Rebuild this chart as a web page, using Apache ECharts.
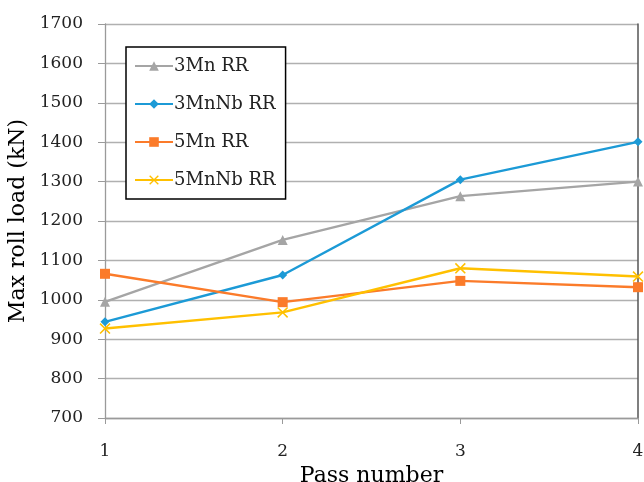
<!DOCTYPE html>
<html><head><meta charset="utf-8">
<script src="https://cdn.jsdelivr.net/npm/echarts@6/dist/echarts.min.js"></script>
<style>html,body{margin:0;padding:0;background:#fff}#c{width:644px;height:482px}</style>
</head><body><div id="c"></div>
<script>
const passes = [1, 2, 3, 4];
const s3Mn = [995, 1152, 1263, 1300];
const s3MnNb = [944, 1063, 1305, 1401];
const s5Mn = [1066, 994, 1048, 1032];
const s5MnNb = [927, 968, 1080, 1059];
const seriesNames = ['3Mn RR', '3MnNb RR', '5Mn RR', '5MnNb RR'];
const yTicks = [700, 800, 900, 1000, 1100, 1200, 1300, 1400, 1500, 1600, 1700];

const font = '"DejaVu Serif", "Liberation Serif", serif';
const xSym = 'path://M0,1L1,0L5,4L9,0L10,1L6,5L10,9L9,10L5,6L1,10L0,9L4,5Z';
function mk(name, vals, color, symbol, size) {
  return {
    name, type: 'line', data: passes.map((p, i) => [p, vals[i]]),
    symbol, symbolSize: size, showSymbol: true,
    lineStyle: { color, width: 2.4 }, itemStyle: { color },
    emphasis: { disabled: true }, z: 3
  };
}
const chart = echarts.init(document.getElementById('c'));
chart.setOption({
  animation: false,
  grid: { left: 105, right: 6, top: 24, bottom: 64, outerBoundsMode: 'none', containLabel: false },
  xAxis: {
    type: 'value', min: 1, max: 4, interval: 1,
    name: 'Pass number', nameLocation: 'middle', nameGap: 36,
    nameTextStyle: { fontFamily: font, fontSize: 22, color: '#000' },
    axisLine: { lineStyle: { color: '#9a9a9a', width: 1.3 } },
    axisTick: { show: true, length: 6, lineStyle: { color: '#9a9a9a' } },
    axisLabel: { fontFamily: font, fontSize: 17, color: '#222', margin: 25 },
    splitLine: { show: false }
  },
  yAxis: [{
    type: 'value', min: 700, max: 1700, interval: 100,
    name: 'Max roll load (kN)', nameLocation: 'middle', nameGap: 71,
    nameTextStyle: { fontFamily: font, fontSize: 22, color: '#000' },
    axisLine: { show: true, lineStyle: { color: '#9a9a9a', width: 1.3 } },
    axisTick: { show: true, length: 7, lineStyle: { color: '#9a9a9a' } },
    axisLabel: { fontFamily: font, fontSize: 17, color: '#222', margin: 22,
      formatter: v => yTicks.includes(v) ? String(v) : '' },
    splitLine: { show: true, lineStyle: { color: '#b0b0b0', width: 1.3 } }
  }, {
    type: 'value', min: 700, max: 1700, interval: 100, position: 'right',
    axisLine: { show: true, lineStyle: { color: '#555', width: 1.5 } },
    axisTick: { show: false }, axisLabel: { show: false }, splitLine: { show: false }
  }],
  legend: {
    orient: 'vertical', left: 126, top: 47,
    backgroundColor: '#fff', borderColor: '#000', borderWidth: 1.5,
    padding: [10, 10, 10, 8], itemGap: 20, itemWidth: 38, itemHeight: 12,
    textStyle: { fontFamily: font, fontSize: 18, color: '#222', padding: [0, 0, 0, -4] },
    data: seriesNames
  },
  series: [
    mk(seriesNames[0], s3Mn, '#a5a5a5', 'triangle', 10),
    mk(seriesNames[1], s3MnNb, '#1c9ad6', 'diamond', 9),
    mk(seriesNames[2], s5Mn, '#fb7b2a', 'rect', 10),
    mk(seriesNames[3], s5MnNb, '#ffc000', xSym, 11)
  ]
});
</script></body></html>
